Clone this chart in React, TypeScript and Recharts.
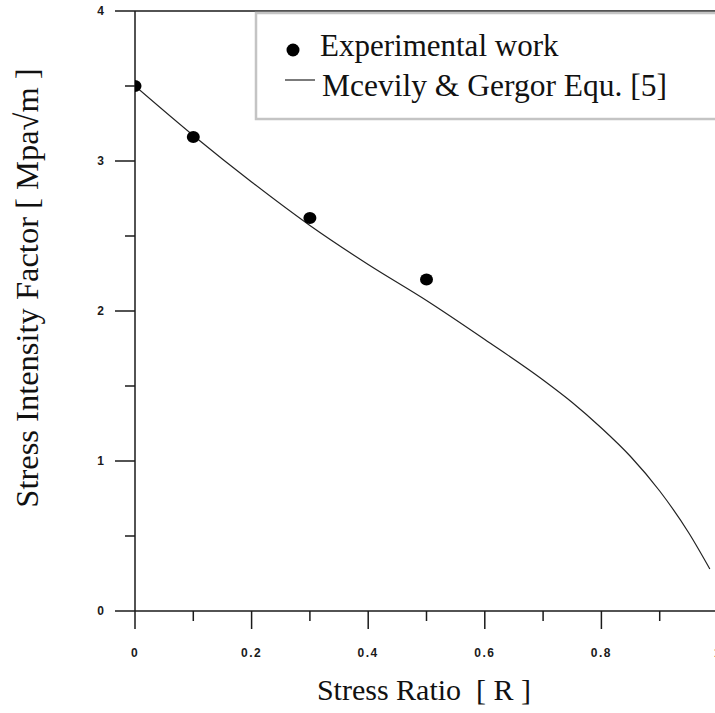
import React from 'react';
import { ComposedChart, Line, Scatter, XAxis, YAxis, ReferenceLine } from 'recharts';

// experimental points
const expRatio = [0, 0.1, 0.3, 0.5];
const expK = [3.5, 3.16, 2.62, 2.21];

// Mcevily & Gergor equation curve
const curveRatio = [0, 0.1, 0.2, 0.3, 0.4, 0.5, 0.6, 0.7, 0.75, 0.8, 0.85, 0.9, 0.95, 0.986];
const curveK = [3.5, 3.17, 2.86, 2.57, 2.31, 2.07, 1.81, 1.54, 1.39, 1.22, 1.03, 0.8, 0.52, 0.28];

const xTicks = [0, 0.1, 0.2, 0.3, 0.4, 0.5, 0.6, 0.7, 0.8, 0.9, 1];
const xMajor = [0, 0.2, 0.4, 0.6, 0.8, 1];
const yTicks = [0, 0.5, 1, 1.5, 2, 2.5, 3, 3.5, 4];
const yMajor = [0, 1, 2, 3, 4];

const expData = expRatio.map((r, i) => ({ r, k: expK[i] }));
const curveData = curveRatio.map((r, i) => ({ r, k: curveK[i] }));

const ink = '#1a1a1a';
const tickFont = { fontFamily: '"Liberation Sans", Arial, sans-serif', fontWeight: 700, fontSize: 12 };
const serif = '"Liberation Serif", "Times New Roman", serif';

function XTick(props: any) {
  const { x, y, payload } = props;
  const major = xMajor.includes(payload.value);
  return (
    <g>
      <line x1={x} x2={x} y1={y} y2={y + (major ? 18 : 10)} stroke={ink} strokeWidth={1.5} />
      {major && (
        <text x={x} y={y + 46} textAnchor="middle" fill={ink} letterSpacing={1.5} style={tickFont}>
          {String(payload.value)}
        </text>
      )}
    </g>
  );
}

function YTick(props: any) {
  const { x, y, payload } = props;
  const major = yMajor.includes(payload.value);
  return (
    <g>
      <line x1={x - (major ? 20 : 10)} x2={x} y1={y} y2={y} stroke={ink} strokeWidth={1.5} />
      {major && (
        <text x={x - 31} y={y} dy="0.35em" textAnchor="end" fill={ink} style={tickFont}>
          {String(payload.value)}
        </text>
      )}
    </g>
  );
}

const Dot = (props: any) => <ellipse cx={props.cx} cy={props.cy} rx={6.5} ry={6} fill="#000" />;

export default function App() {
  return (
    <div style={{ position: 'absolute', left: 0, top: 0, width: 715, height: 713, overflow: 'hidden', background: '#fff' }}>
      <ComposedChart width={735} height={713} margin={{ top: 11, right: 17, left: 0, bottom: 0 }}>
        <XAxis
          dataKey="r"
          type="number"
          domain={[0, 1]}
          ticks={xTicks}
          interval={0}
          height={102}
          tickSize={0}
          tickMargin={0}
          tickLine={false}
          axisLine={{ stroke: ink, strokeWidth: 1.5 }}
          tick={<XTick />}
          allowDataOverflow
        />
        <YAxis
          dataKey="k"
          type="number"
          domain={[0, 4]}
          ticks={yTicks}
          interval={0}
          width={135}
          tickSize={0}
          tickMargin={0}
          tickLine={false}
          axisLine={{ stroke: ink, strokeWidth: 1.5 }}
          tick={<YTick />}
          allowDataOverflow
        />
        <ReferenceLine y={4} stroke={ink} strokeWidth={1.5} />
        <Line
          data={curveData}
          dataKey="k"
          type="monotone"
          stroke="#222"
          strokeWidth={1.2}
          dot={false}
          activeDot={false}
          isAnimationActive={false}
        />
        <Scatter data={expData} dataKey="k" shape={<Dot />} isAnimationActive={false} />
      </ComposedChart>

      <svg width={715} height={713} style={{ position: 'absolute', left: 0, top: 0, pointerEvents: 'none' }}>
        {/* legend box */}
        <rect x={256} y={13} width={480} height={106} fill="#fff" stroke="#c4c4c4" strokeWidth={2.5} />
        <circle cx={293} cy={50} r={6.5} fill="#000" />
        <text x={320} y={56} fontFamily={serif} fontSize={31} fill="#111">Experimental work</text>
        <line x1={285} x2={315} y1={80} y2={80} stroke="#222" strokeWidth={1.2} />
        <text x={322} y={96} fontFamily={serif} fontSize={31.5} fill="#111">Mcevily &amp; Gergor Equ. [5]</text>

        {/* axis titles */}
        <text x={424} y={700} textAnchor="middle" fontFamily={serif} fontSize={30} fill="#111" xmlSpace="preserve">
          {'Stress Ratio  [ R ]'}
        </text>
        <text
          x={38}
          y={288}
          textAnchor="middle"
          transform="rotate(-90, 38, 288)"
          fontFamily={serif}
          fontSize={32.5}
          fill="#111"
        >
          Stress Intensity Factor [ Mpa√m ]
        </text>
      </svg>
    </div>
  );
}
